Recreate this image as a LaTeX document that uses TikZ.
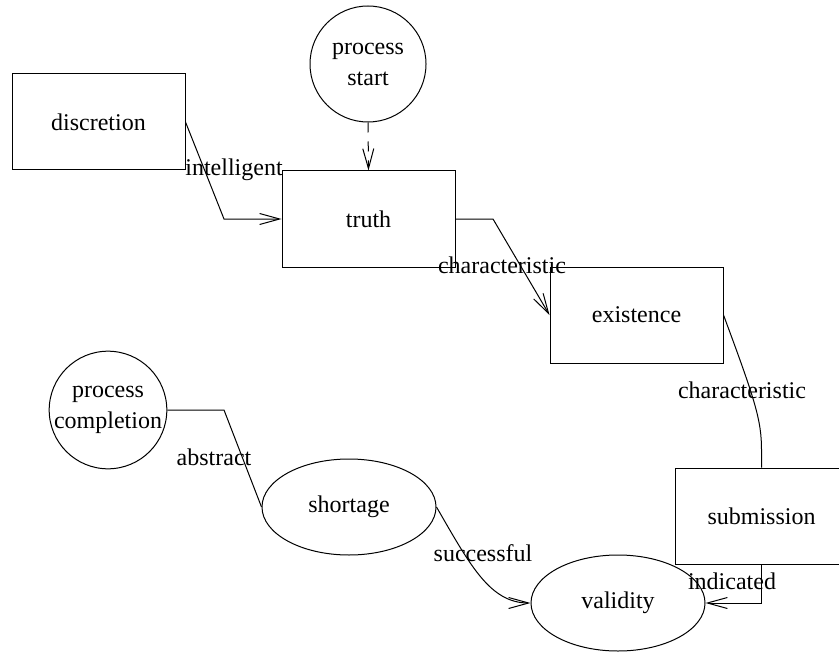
\documentclass[tikz,border=0pt]{standalone}
\usepackage{fontspec}
\setmainfont{Liberation Serif}
\usetikzlibrary{arrows.meta,shapes.geometric}
\begin{document}
\begin{tikzpicture}[x=0.5pt,y=-0.5pt,
  every node/.style={font=\fontsize{12}{15.5}\selectfont},
  boxnode/.style={draw,line width=0.5pt,minimum width=86.5pt,minimum height=48pt,inner sep=0pt},
  circnode/.style={draw,circle,line width=0.5pt,minimum size=58pt,inner sep=0pt,align=center},
  ellnode/.style={draw,ellipse,line width=0.5pt,minimum width=87pt,minimum height=48pt,inner sep=0pt},
  conn/.style={line width=0.5pt},
  arr/.style={conn,-{Straight Barb[length=10pt,width=5.5pt,line width=0.5pt]}},
  lbl/.style={inner sep=0pt}]
\useasboundingbox (0,0) rectangle (839,652);
\node[boxnode] (disc) at (98.5,122) {discretion};
\node[circnode] (start) at (368,64) {process\\start};
\node[boxnode] (truth) at (368.5,219) {truth};
\node[boxnode] (exist) at (636.5,315) {existence};
\node[boxnode] (sub) at (761.5,516) {submission};
\node[circnode] (comp) at (108,410) {process\\completion};
\node[ellnode] (short) at (349,507) {shortage};
\node[ellnode] (val) at (618,603) {validity};
\coordinate (c1) at (224,219);
\coordinate (c2) at (493,219);
\coordinate (c3) at (224,410);
\draw[arr] (disc.east) -- (c1) -- (truth.west);
\draw[arr,dash pattern=on 5pt off 4.5pt] (start.south) -- (truth.north);
\draw[arr] (truth.east) -- (c2) -- (exist.west);
\draw[conn] (exist.east) .. controls (755,400) and (761.5,420) .. (761.5,450) -- (sub.north);
\draw[arr] (sub.south) |- (val.east);
\draw[conn] (comp.east) -- (c3) -- (short.west);
\draw[arr] (short.east) .. controls (470,565) and (490,603) .. (val.west);
\node[lbl] (l1) at (234,170) {intelligent};
\node[lbl] (l2) at (502,265) {characteristic};
\node[lbl] (l3) at (742,390) {characteristic};
\node[lbl] (l4) at (214,457) {abstract};
\node[lbl] (l5) at (483,553) {successful};
\node[lbl] (l6) at (732,581) {indicated};
\end{tikzpicture}
\end{document}
